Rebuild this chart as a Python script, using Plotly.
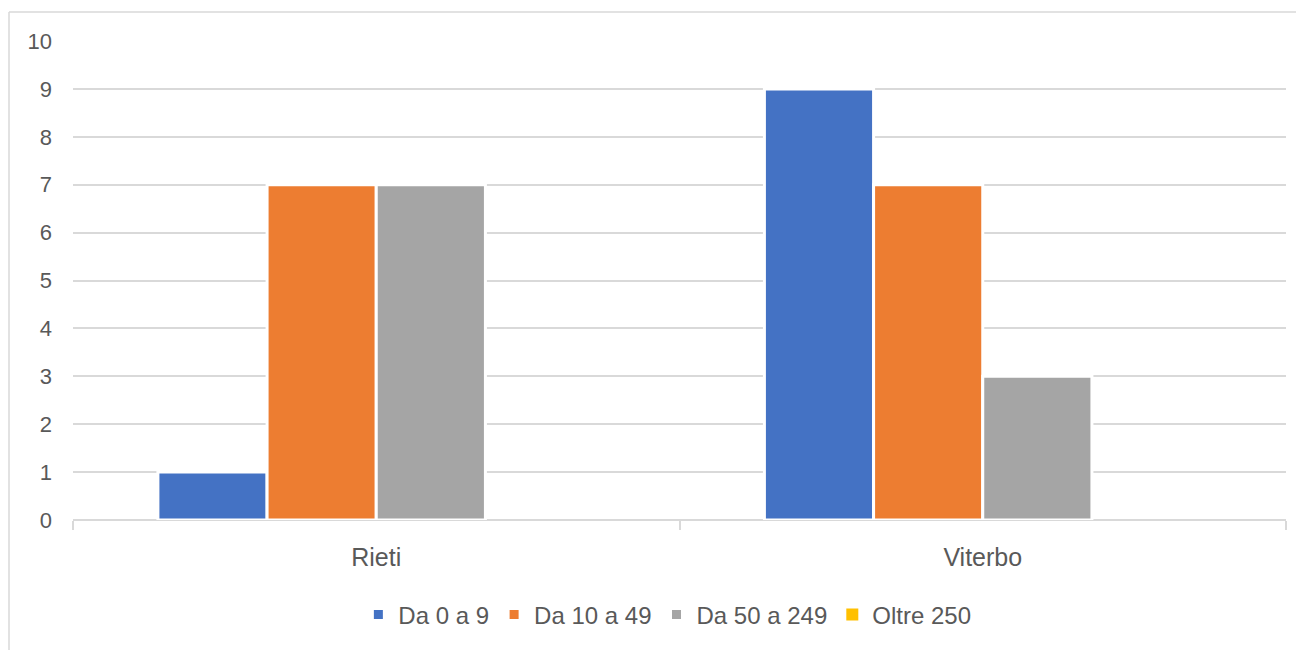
import plotly.graph_objects as go

categories = ["Rieti", "Viterbo"]
series_names = ["Da 0 a 9", "Da 10 a 49", "Da 50 a 249", "Oltre 250"]
series_values = [
    [1, 9],
    [7, 7],
    [7, 3],
    [0, 0],
]
series_colors = ["#4472C4", "#ED7D31", "#A5A5A5", "#FFC000"]
y_ticks = list(range(0, 11))

# page has an 8px body margin, so size the figure to the visible window
W, H = 1296, 642
ML, MR, MT, MB = 65, 18, 33, 130
pw = W - ML - MR
ph = H - MT - MB

fig = go.Figure()
for name, vals, col in zip(series_names, series_values, series_colors):
    fig.add_trace(go.Bar(
        x=categories, y=vals, name=name,
        marker=dict(color=col,
                    line=dict(color="white", width=3 if any(vals) else 0)),
    ))

# outer chart border (left + top edges visible in the frame)
bx = (1 - ML) / pw
by = (H - MB - 4) / ph
fig.add_shape(type="line", xref="paper", yref="paper",
              x0=bx, x1=1.2, y0=by, y1=by,
              line=dict(color="#d9d9d9", width=1.5))
fig.add_shape(type="line", xref="paper", yref="paper",
              x0=bx, x1=bx, y0=by, y1=-0.5,
              line=dict(color="#d9d9d9", width=1.5))

fig.update_layout(
    width=W, height=H,
    margin=dict(l=ML, r=MR, t=MT, b=MB),
    plot_bgcolor="white", paper_bgcolor="white",
    barmode="group", bargap=0.28, bargroupgap=0.0,
    font=dict(family="Liberation Sans", size=22, color="#595959"),
    xaxis=dict(
        showgrid=False, ticks="outside", tickson="boundaries",
        ticklen=9, tickcolor="#d9d9d9", tickwidth=1.5,
        showline=False, ticklabelstandoff=20,
        tickfont=dict(size=25),
    ),
    yaxis=dict(
        range=[0, 10], tickvals=y_ticks, showgrid=True,
        gridcolor="#d9d9d9", gridwidth=1.5,
        zeroline=True, zerolinecolor="#d9d9d9", zerolinewidth=2,
        showline=False, ticklabelstandoff=20,
        tickfont=dict(size=22),
    ),
    legend=dict(orientation="h", x=0.49, xanchor="center",
                y=-0.198, yanchor="middle",
                font=dict(size=24), itemwidth=30),
    showlegend=True,
)

fig.write_html("out.html")
